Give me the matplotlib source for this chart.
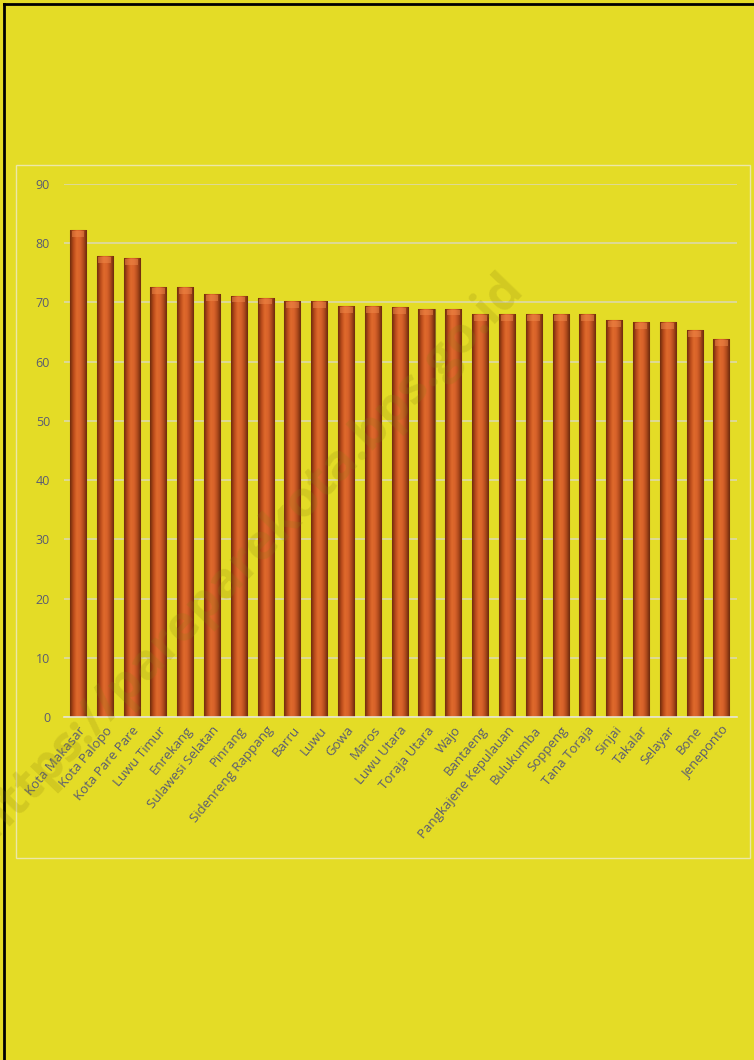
import numpy as np
import matplotlib.pyplot as plt
from matplotlib.colors import LinearSegmentedColormap
from matplotlib.patches import Rectangle

# data
regions = [
    "Kota Makasar", "Kota Palopo", "Kota Pare Pare", "Luwu Timur", "Enrekang",
    "Sulawesi Selatan", "Pinrang", "Sidenreng Rappang", "Barru", "Luwu",
    "Gowa", "Maros", "Luwu Utara", "Toraja Utara", "Wajo",
    "Bantaeng", "Pangkajene Kepulauan", "Bulukumba", "Soppeng", "Tana Toraja",
    "Sinjai", "Takalar", "Selayar", "Bone", "Jeneponto",
]
values = [
    82.2, 77.8, 77.5, 72.6, 72.6,
    71.4, 71.1, 70.8, 70.2, 70.2,
    69.4, 69.4, 69.2, 68.9, 68.9,
    68.0, 68.0, 68.0, 68.0, 68.0,
    67.0, 66.7, 66.7, 65.3, 63.8,
]
yticks = [0, 10, 20, 30, 40, 50, 60, 70, 80, 90]

bg = "#E4DC26"
txt = "#5A5C72"
grid_c = "#DCD9A8"

plt.rcParams['font.family'] = ['Open Sans', 'DejaVu Sans']

fig = plt.figure(figsize=(7.54, 10.60), dpi=100, facecolor=bg)
ax = fig.add_axes([64 / 754, 1 - 717 / 1060, 673 / 754, 533 / 1060])
ax.set_facecolor(bg)

# outer black border (left + top)
fig.add_artist(plt.Line2D([3.5 / 754, 3.5 / 754], [0, 1 - 3.5 / 1060],
                          color="black", lw=2, transform=fig.transFigure))
fig.add_artist(plt.Line2D([3.5 / 754, 1], [1 - 3.5 / 1060, 1 - 3.5 / 1060],
                          color="black", lw=2, transform=fig.transFigure))

# chart frame
fig.add_artist(Rectangle((16 / 754, 1 - 858 / 1060), 734 / 754, 693 / 1060,
                         fill=False, ec="#ECE7A8", lw=1, transform=fig.transFigure))

x = np.arange(len(regions))
bars = ax.bar(x, values, width=0.6, color="#C9561F", edgecolor="#8A6A20",
              linewidth=0.8, zorder=3)

# cylinder-like shading inside each bar
cmap = LinearSegmentedColormap.from_list(
    "cyl", ["#6E2C0C", "#B94A1A", "#E06A2C", "#D8622A", "#B04A1C", "#6A2A0C"])
grad = np.linspace(0, 1, 64).reshape(1, -1)
for b in bars:
    bx, bw, bh = b.get_x(), b.get_width(), b.get_height()
    im = ax.imshow(grad, extent=(bx, bx + bw, 0, bh), cmap=cmap,
                   aspect="auto", zorder=3.5, interpolation="bicubic")
    im.set_clip_path(b)
    # lighter cap on top
    ax.bar(bx + bw / 2, 0.9, bottom=bh - 1.1, width=bw * 0.8,
           color="#F08A4A", alpha=0.5, linewidth=0, zorder=4)

ax.set_xlim(-0.52, len(regions) - 0.42)
ax.set_ylim(0, 90)
ax.set_yticks(yticks)
ax.yaxis.grid(True, color=grid_c, lw=1.2, zorder=1)
ax.set_axisbelow(True)
for s in ["top", "right", "left"]:
    ax.spines[s].set_visible(False)
ax.spines["bottom"].set_color("#E8E6D0")
ax.spines["bottom"].set_linewidth(1.2)
ax.spines["bottom"].set_zorder(5)

ax.tick_params(axis="y", length=0, pad=10, labelsize=9, labelcolor=txt)
ax.tick_params(axis="x", length=0, pad=5, labelsize=9.5, labelcolor=txt)
ax.set_xticks(x)
ax.set_xticklabels(regions, rotation=50, ha="right", rotation_mode="anchor")

# watermark
fig.text(524 / 754, 1 - 290 / 1060, "https://pareparekota.bps.go.id",
         rotation=46, rotation_mode="anchor", ha="right", va="baseline",
         fontsize=36, fontweight="bold", color="#8A8010", alpha=0.2,
         zorder=10)

fig.savefig("out.png", dpi=100, facecolor=bg)
